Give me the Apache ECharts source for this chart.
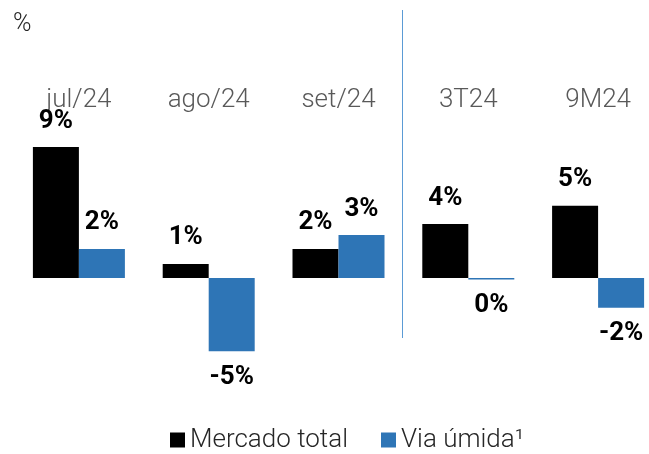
<!DOCTYPE html>
<html>
<head>
<meta charset="utf-8">
<script src="https://cdn.jsdelivr.net/npm/echarts@6/dist/echarts.min.js"></script>
<style>
  html, body { margin: 0; padding: 0; background: #fff; }
  #chart { width: 649px; height: 454px; }
</style>
</head>
<body>
<div id="chart"></div>
<script>
// categorias e valores (%)
var categorias = ['jul/24', 'ago/24', 'set/24', '3T24', '9M24'];
var mercadoTotal = [8.97, 0.97, 2.0, 3.7, 4.95];
var viaUmida = [2.0, -5.0, 2.95, -0.1, -2.03];

var myChart = echarts.init(document.getElementById('chart'));

function rotulo(pos) {
    return {
        show: true,
        position: pos,
        distance: 13,
        color: '#000',
        fontFamily: 'Roboto',
        fontWeight: 'bold',
        fontSize: 26,
        formatter: function(p) {
            return Math.round(p.value) + '%';
        }
    };
}

var option = {
    animation: false,
    textStyle: { fontFamily: 'Roboto' },
    grid: {
        left: 14,
        width: 649,
        top: 132,
        bottom: 59,
        outerBoundsMode: 'none',
        containLabel: false
    },
    legend: {
        top: 427,
        left: 170,
        padding: 0,
        itemWidth: 15,
        itemHeight: 15,
        itemGap: 33,
        icon: 'rect',
        textStyle: {
            fontFamily: 'Roboto',
            fontWeight: 300,
            fontSize: 26,
            color: '#262626'
        },
        data: ['Mercado total', 'Via úmida¹']
    },
    xAxis: {
        type: 'category',
        position: 'top',
        data: categorias,
        axisLine: { show: false },
        axisTick: { show: false },
        axisLabel: {
            margin: 19,
            fontFamily: 'Roboto',
            fontWeight: 300,
            fontSize: 26,
            color: '#595959'
        }
    },
    yAxis: {
        type: 'value',
        min: -8,
        max: 10,
        show: false,
        splitLine: { show: false }
    },
    graphic: [{
        type: 'text',
        left: 13,
        top: 12,
        style: {
            text: '%',
            fontFamily: 'Roboto',
            fontWeight: 300,
            fontSize: 25,
            fill: '#262626'
        }
    }, {
        type: 'line',
        shape: { x1: 402.5, y1: 10, x2: 402.5, y2: 338 },
        style: { stroke: '#5B9BD5', lineWidth: 1 }
    }],
    series: [{
        name: 'Mercado total',
        type: 'bar',
        barWidth: 46,
        barGap: 0,
        itemStyle: { color: '#000000' },
        label: rotulo('top'),
        data: mercadoTotal
    }, {
        name: 'Via úmida¹',
        type: 'bar',
        barWidth: 46,
        barGap: 0,
        itemStyle: { color: '#2E75B6' },
        label: rotulo('top'),
        data: viaUmida.map(function(v) {
            return v < 0 ? { value: v, label: { position: 'bottom' } } : v;
        })
    }]
};
myChart.setOption(option);
</script>
</body>
</html>
